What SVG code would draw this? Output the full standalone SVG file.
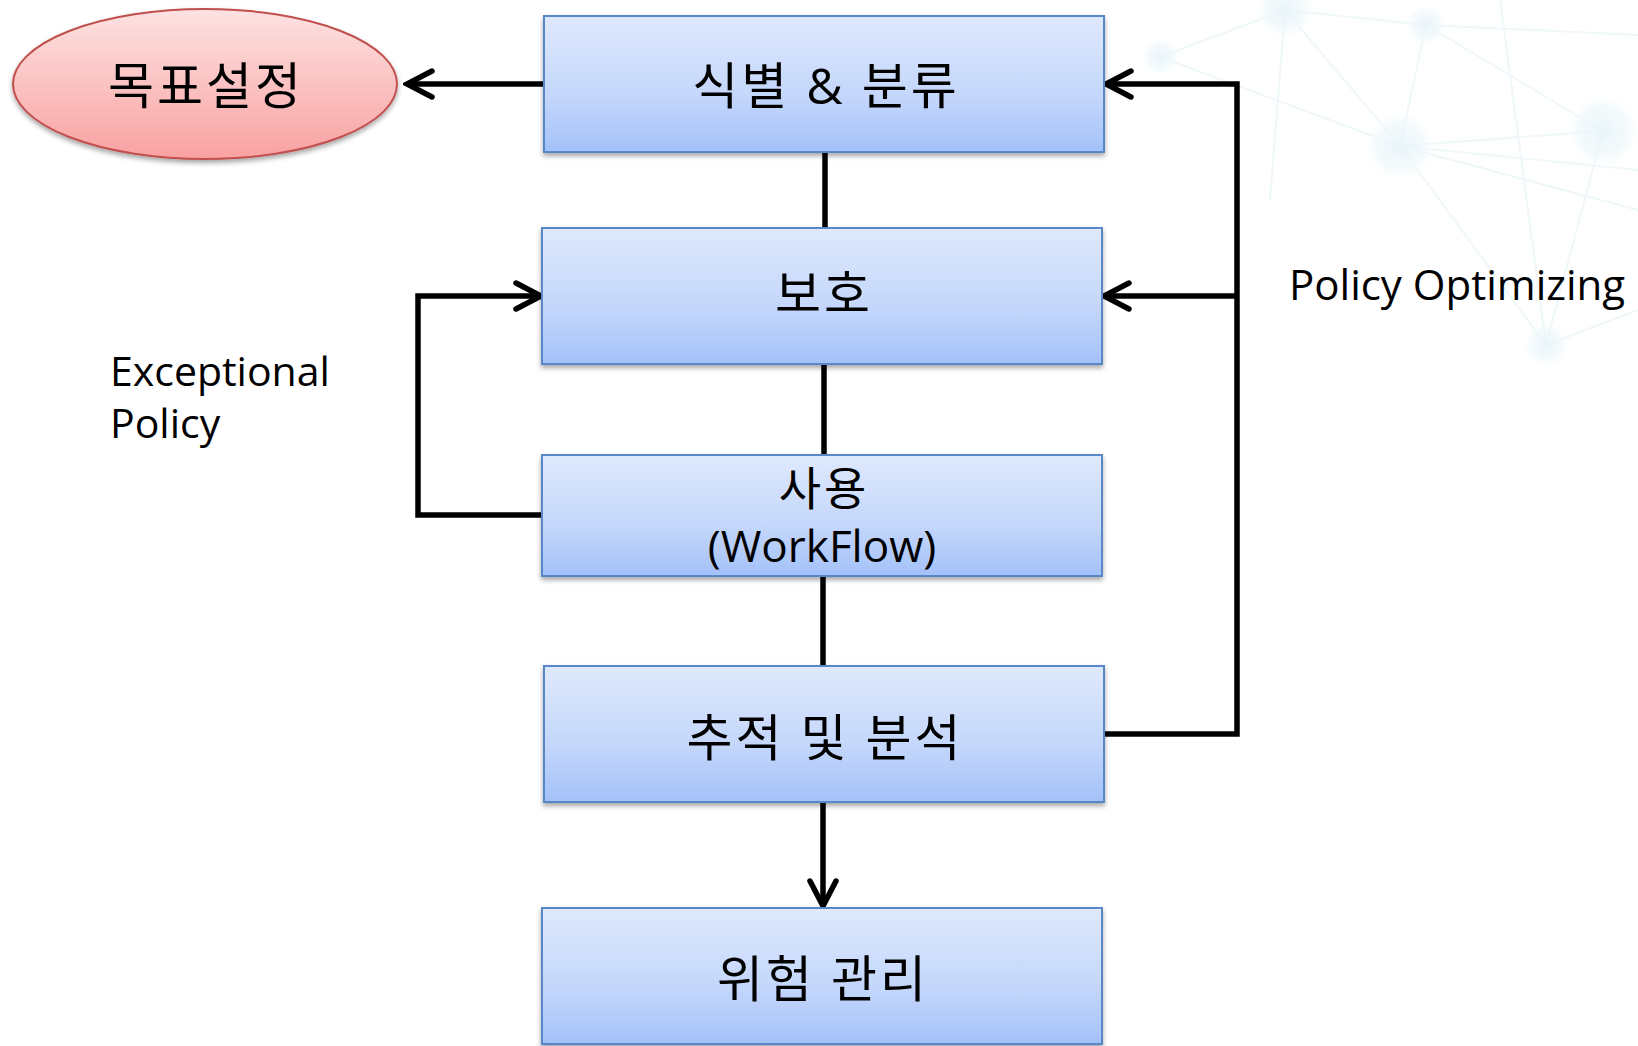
<svg xmlns="http://www.w3.org/2000/svg" width="1638" height="1046" viewBox="0 0 1638 1046">
<defs>
<style>
.box{fill:url(#gBlue);stroke:#5a87c8;stroke-width:2;filter:url(#sh)}
.lbl{font-family:"Open Sans","Noto Sans CJK KR",sans-serif;font-size:50px;fill:#000;text-anchor:middle;letter-spacing:3px}
.note{font-family:"Open Sans","Noto Sans CJK KR",sans-serif;font-size:41px;fill:#000}
.con{fill:none;stroke:#000;stroke-width:5.5;stroke-linejoin:miter}
.bgl{stroke:#e6f3f7;stroke-width:2;fill:none}
</style>
<linearGradient id="gBlue" x1="0" y1="0" x2="0" y2="1">
<stop offset="0" stop-color="#dfe9fd"/>
<stop offset="0.6" stop-color="#c3d6fb"/>
<stop offset="1" stop-color="#a3c1f9"/>
</linearGradient>
<linearGradient id="gRed" x1="0" y1="0" x2="0" y2="1">
<stop offset="0" stop-color="#fde2e2"/>
<stop offset="0.6" stop-color="#fbbcbc"/>
<stop offset="1" stop-color="#f9a1a1"/>
</linearGradient>
<radialGradient id="gDot">
<stop offset="0" stop-color="#d6edf5" stop-opacity="0.9"/>
<stop offset="0.7" stop-color="#e2f2f8" stop-opacity="0.6"/>
<stop offset="1" stop-color="#eef8fb" stop-opacity="0"/>
</radialGradient>
<filter id="sh" x="-5%" y="-10%" width="110%" height="125%">
<feDropShadow dx="0" dy="3" stdDeviation="2.5" flood-color="#000" flood-opacity="0.35"/>
</filter>
<marker id="arr" markerUnits="userSpaceOnUse" viewBox="-30 -16 34 32" markerWidth="34" markerHeight="32" refX="0" refY="0" orient="auto">
<path d="M-25,-13 L0,0 L-25,13" fill="none" stroke="#000" stroke-width="5.5" stroke-linecap="round" stroke-linejoin="miter"/>
</marker>
</defs>
<rect width="1638" height="1046" fill="#fff"/>
<g id="background" opacity="0.6">
<path class="bgl" d="M1160,57 L1285,10 L1426,25 L1638,35 M1285,10 L1400,146 L1603,131 M1426,25 L1400,146 L1546,345 M1426,25 L1603,131 M1160,57 L1400,146 L1638,210 M1603,131 L1546,345 M1285,10 L1270,200 M1400,146 L1638,170 M1546,345 L1638,310 M1500,0 L1546,345"/>
<circle cx="1285" cy="10" r="28" fill="url(#gDot)"/>
<circle cx="1426" cy="25" r="20" fill="url(#gDot)"/>
<circle cx="1160" cy="57" r="18" fill="url(#gDot)"/>
<circle cx="1400" cy="146" r="34" fill="url(#gDot)"/>
<circle cx="1603" cy="131" r="36" fill="url(#gDot)"/>
<circle cx="1546" cy="345" r="22" fill="url(#gDot)"/>
</g>
<g id="connectors">
<path class="con" d="M544,84 L407,84" marker-end="url(#arr)"/>
<path class="con" d="M825,152 L825,228"/>
<path class="con" d="M824,364 L824,455"/>
<path class="con" d="M823,576 L823,666"/>
<path class="con" d="M823,802 L823,906" marker-end="url(#arr)"/>
<path class="con" d="M545,515 L418,515 L418,296 L541,296" marker-end="url(#arr)"/>
<path class="con" d="M1104,734 L1237,734 L1237,84 L1106,84" marker-end="url(#arr)"/>
<path class="con" d="M1237,296 L1104,296" marker-end="url(#arr)"/>
</g>
<g id="goal">
<ellipse cx="205" cy="84" rx="192" ry="75" fill="url(#gRed)" stroke="#c0504d" stroke-width="2" filter="url(#sh)"/>
<text class="lbl" x="206" y="104">목표설정</text>
</g>
<g id="identify">
<rect class="box" x="544" y="16" width="560" height="136"/>
<text class="lbl" x="826" y="104">식별 &amp; 분류</text>
</g>
<g id="protect">
<rect class="box" x="542" y="228" width="560" height="136"/>
<text class="lbl" x="824" y="312">보호</text>
</g>
<g id="use">
<rect class="box" x="542" y="455" width="560" height="121"/>
<text class="lbl" x="824" y="505" style="font-size:46px">사용</text>
<text class="lbl" x="822" y="562" style="font-size:44px;letter-spacing:0">(WorkFlow)</text>
</g>
<g id="track">
<rect class="box" x="544" y="666" width="560" height="136"/>
<text class="lbl" x="825" y="756">추적 및 분석</text>
</g>
<g id="risk">
<rect class="box" x="542" y="908" width="560" height="136"/>
<text class="lbl" x="823" y="997">위험 관리</text>
</g>
<g id="labels">
<text class="note" x="110" y="386">Exceptional</text>
<text class="note" x="110" y="438">Policy</text>
<text class="note" x="1289" y="300" style="font-size:42px">Policy Optimizing</text>
</g>
</svg>
